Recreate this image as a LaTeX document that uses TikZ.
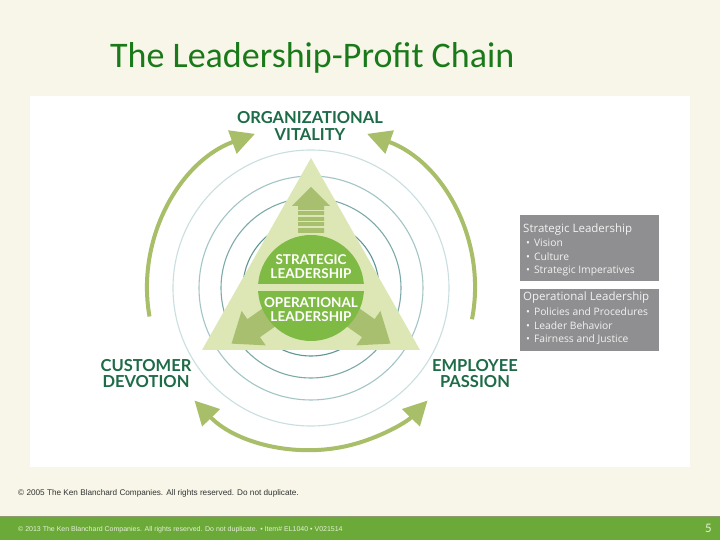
\documentclass[tikz,border=0pt]{standalone}
\usepackage{fontspec}
\setmainfont{Carlito}
\newfontfamily\labfont{Lato}
\newfontfamily\boxfont{Open Sans}
\newfontfamily\footfont{Liberation Sans}
\usetikzlibrary{arrows.meta}
\definecolor{cream}{HTML}{F8F6E8}
\definecolor{barGreen}{HTML}{6BAA38}
\definecolor{barLine}{HTML}{8E9B72}
\definecolor{titleGreen}{HTML}{1A7A1A}
\definecolor{labGreen}{HTML}{1E6B48}
\definecolor{ringA}{HTML}{C9DFDF}
\definecolor{ringB}{HTML}{A3C6C5}
\definecolor{ringC}{HTML}{7DAAA9}
\definecolor{ringD}{HTML}{5E9595}
\definecolor{triGreen}{HTML}{DCE7B5}
\definecolor{arrGreen}{HTML}{A9BF70}
\definecolor{circGreen}{HTML}{7FBA45}
\definecolor{arcGreen}{HTML}{A8BE68}
\definecolor{boxGray}{HTML}{8F8F91}
\definecolor{boxText}{HTML}{F2F2F2}
\definecolor{footText}{HTML}{333333}
\definecolor{barText}{HTML}{E6F0D8}
\tikzset{
  biglab/.style={font=\labfont\bfseries\fontsize{16.5}{17}\selectfont, text=labGreen, anchor=base, inner sep=0pt},
  circlab/.style={font=\labfont\bfseries\fontsize{13.5}{14}\selectfont, text=white, anchor=base, inner sep=0pt},
  boxtitle/.style={font=\boxfont\fontsize{11.5}{12}\selectfont, text=boxText, anchor=base west, inner sep=0pt},
  boxitem/.style={font=\boxfont\fontsize{10.3}{11}\selectfont, text=boxText, anchor=base west, inner sep=0pt},
  garc/.style={draw=arcGreen, line width=4pt},
  ringline/.style={line width=1.1pt},
  graybox/.style={fill=boxGray, draw=none},
  diagarrow/.style={fill=arrGreen, draw=none}
}
\begin{document}
\begin{tikzpicture}[x=1pt,y=1pt]
\useasboundingbox (0,0) rectangle (720,540);
\fill[cream] (0,0) rectangle (720,540);
\fill[white] (30,73) rectangle (690,444);
\fill[barGreen] (0,0) rectangle (720,23);
\draw[barLine, line width=1.5pt] (0,23.5) -- (720,23.5);

\node[font=\fontsize{36}{38}\selectfont, text=titleGreen, anchor=base west, inner sep=0pt] (title) at (110,472) {The Leadership-Profit Chain};

\coordinate (C) at (311,252);
% rings
\draw[ringline, draw=ringA] (C) circle[radius=138];
\draw[ringline, draw=ringB] (C) circle[radius=112];
\draw[ringline, draw=ringC] (C) circle[radius=90];
\draw[ringline, draw=ringD] (C) circle[radius=68];

% outer green arcs
\draw[garc, -{Triangle[length=24pt,width=24pt]}] (C) ++(190:164) arc[start angle=190, end angle=110, radius=164];
\draw[garc, -{Triangle[length=24pt,width=24pt]}] (C) ++(-11:164) arc[start angle=-11, end angle=70, radius=164];
\draw[garc, {Triangle[length=24pt,width=24pt]}-{Triangle[length=24pt,width=24pt]}] (C) ++(224:162) arc[start angle=224, end angle=316, radius=162];

% triangle
\fill[triGreen] (311,382) -- (202,190) -- (420,190) -- cycle;

% up arrow with striped stem
\fill[arrGreen] (311,353) -- (292,334) -- (298,334) -- (298,307) -- (324,307) -- (324,334) -- (330,334) -- cycle;
\foreach \yy in {313,318.5,324,329.5}{
  \draw[triGreen, line width=1.4pt] (297,\yy) -- (325,\yy);
}

% diagonal arrows
\begin{scope}[shift={(C)}, rotate=215]
  \fill[diagarrow] (45,-11) -- (70,-11) -- (70,-21) -- (97,0) -- (70,21) -- (70,11) -- (45,11) -- cycle;
\end{scope}
\begin{scope}[shift={(C)}, rotate=-35]
  \fill[diagarrow] (45,-11) -- (70,-11) -- (70,-21) -- (97,0) -- (70,21) -- (70,11) -- (45,11) -- cycle;
\end{scope}

% central circle
\fill[circGreen] (C) circle[radius=53];
\fill[triGreen] (257,248.5) rectangle (365,256);

\node[circlab] (s1) at (311,275) {STRATEGIC};
\node[circlab] (s2) at (311,261.5) {LEADERSHIP};
\node[circlab] (o1) at (311,232) {OPERATIONAL};
\node[circlab] (o2) at (311,218) {LEADERSHIP};

% outer labels
\node[biglab] (org1) at (310,416) {ORGANIZATIONAL};
\node[biglab] (org2) at (310,399) {VITALITY};
\node[biglab] (cus1) at (146,168) {CUSTOMER};
\node[biglab] (cus2) at (146,152) {DEVOTION};
\node[biglab] (emp1) at (475,168) {EMPLOYEE};
\node[biglab] (emp2) at (475,152) {PASSION};

% gray boxes
\fill[graybox] (520,259) rectangle (659,325);
\fill[graybox] (520,189) rectangle (659,251);
\node[boxtitle] (bt1) at (523,307) {Strategic Leadership};
\node[boxitem] (b11) at (526,293) {•\hspace{4pt}Vision};
\node[boxitem] (b12) at (526,279.5) {•\hspace{4pt}Culture};
\node[boxitem] (b13) at (526,266) {•\hspace{4pt}Strategic Imperatives};
\node[boxtitle] (bt2) at (523,239) {Operational Leadership};
\node[boxitem] (b21) at (526,224) {•\hspace{4pt}Policies and Procedures};
\node[boxitem] (b22) at (526,210.5) {•\hspace{4pt}Leader Behavior};
\node[boxitem] (b23) at (526,197) {•\hspace{4pt}Fairness and Justice};

% footer
\node[font=\footfont\fontsize{8.2}{9}\selectfont, text=footText, anchor=base west, inner sep=0pt] (foot1) at (18,44) {© 2005 The Ken Blanchard Companies. All rights reserved. Do not duplicate.};
\node[font=\footfont\fontsize{7}{8}\selectfont, text=barText, anchor=base west, inner sep=0pt] (foot2) at (18,8) {© 2013 The Ken Blanchard Companies. All rights reserved. Do not duplicate. • Item\# EL1040 • V021514};
\node[font=\fontsize{13}{14}\selectfont, text=barText, anchor=base east, inner sep=0pt] (page) at (712,7) {5};
\end{tikzpicture}
\end{document}
